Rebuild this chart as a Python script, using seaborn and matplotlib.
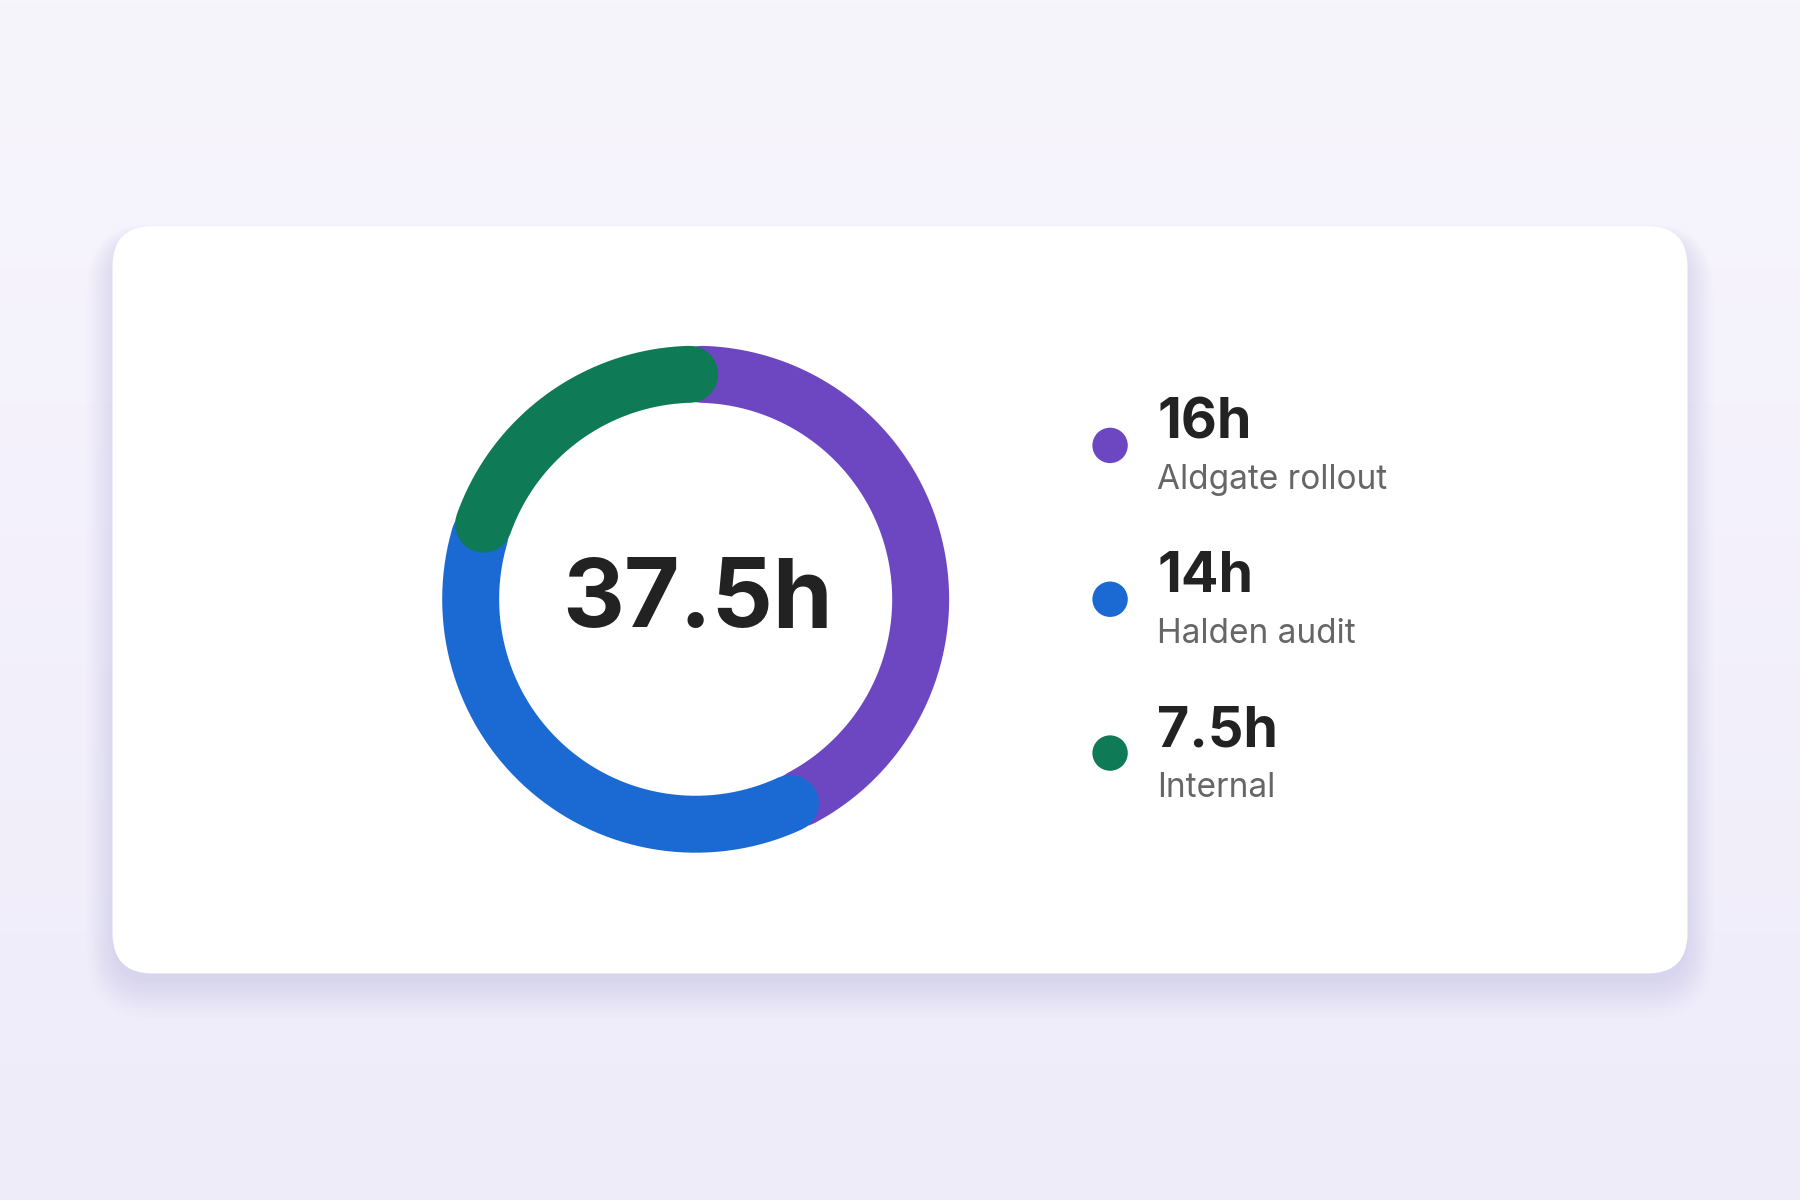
import numpy as np
import pandas as pd
import matplotlib
matplotlib.use("Agg")
import matplotlib.pyplot as plt
from matplotlib.patches import FancyBboxPatch
import seaborn as sns

# ── Data ──────────────────────────────────────────────
projects = ["Aldgate rollout", "Halden audit", "Internal"]
hours    = [16, 14, 7.5]
labels   = ["16h", "14h", "7.5h"]
colors   = ["#6C47C1", "#1B69D3", "#0F7A56"]
total_label = "37.5h"

sns.set_theme(style="white")
plt.rcParams["font.family"] = ["Inter", "DejaVu Sans"]

W, H = 1568, 1045.33
fig = plt.figure(figsize=(18, 12), dpi=100)
ax = fig.add_axes([0, 0, 1, 1])
ax.set_xlim(0, W); ax.set_ylim(H, 0); ax.axis("off")

# background gradient
grad = np.linspace(0, 1, 256).reshape(-1, 1)
ax.imshow(grad, extent=[0, W, H, 0], cmap=matplotlib.colors.LinearSegmentedColormap.from_list(
    "bg", ["#F7F5FC", "#EFECFA"]), aspect="auto", zorder=0)

# card shadow + card
for i in range(12):
    ax.add_patch(FancyBboxPatch((98 - i*2, 208 - i*1.2), 1372 + i*4, 648 + i*4,
                 boxstyle="round,pad=0,rounding_size=%d" % (35 + i*2),
                 fc="#5A4A9A", ec="none", alpha=0.008, zorder=1))
ax.add_patch(FancyBboxPatch((98, 197), 1372, 651, boxstyle="round,pad=0,rounding_size=35",
             fc="white", ec="none", zorder=2))

# donut arcs
cx, cy, r = 606, 522, 196
start = 90.0
tot = sum(hours)
for h, c in zip(hours, colors):
    span = h / tot * 360
    a = np.radians(np.linspace(start - 1.5, start - span + 1.5, 200))
    ax.plot(cx + r*np.cos(a), cy - r*np.sin(a), color=c, lw=41,
            solid_capstyle="round", zorder=3)
    start -= span

ax.text(cx + 2, cy + 2, total_label, ha="center", va="center", fontsize=69,
        fontweight="bold", color="#222222", zorder=4)

# legend
ys = [388, 522, 656]
df = pd.DataFrame({"x": [967]*3, "y": ys, "project": projects})
sns.scatterplot(data=df, x="x", y="y", hue="project", palette=colors, s=650,
                edgecolor="none", legend=False, ax=ax, zorder=4)
ax.set_xlim(0, W); ax.set_ylim(H, 0)
for y, v, p in zip(ys, labels, projects):
    ax.text(1008, y - 19, v, ha="left", va="center", fontsize=40,
            fontweight="bold", color="#222222", zorder=4)
    ax.text(1008, y + 30, p, ha="left", va="center", fontsize=24,
            color="#666666", zorder=4)

fig.savefig("out.png", dpi=100)
